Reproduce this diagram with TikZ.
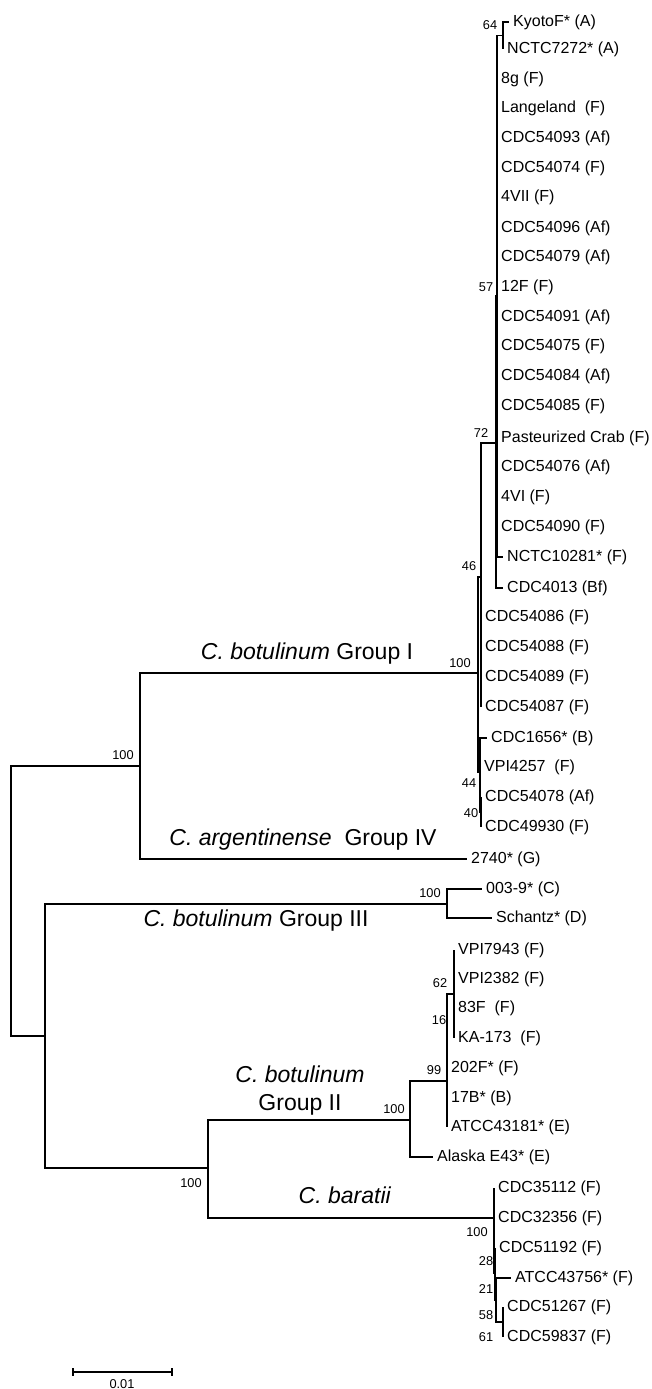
\documentclass[tikz,border=0pt]{standalone}
\usepackage{fontspec}
\setmainfont{Liberation Sans}
\tikzset{
  leaf/.style={anchor=west, inner xsep=4pt, inner ysep=1pt, font=\fontsize{16}{18}\selectfont},
  boot/.style={inner sep=0pt, font=\fontsize{12.8}{14}\selectfont},
  clade/.style={inner sep=0pt, align=center, font=\fontsize{23}{28}\selectfont},
  branch/.style={line width=1.8pt},
}
\begin{document}
\begin{tikzpicture}[x=1pt,y=-1pt]
        \useasboundingbox (0,0) rectangle (651,1389);
        %% inner nodes of the tree
        \coordinate (root) at (11,901);
        \coordinate (n100b) at (140,766);
        \coordinate (n100a) at (478,673);
        \coordinate (n46) at (481,577);
        \coordinate (n72) at (496,443);
        \coordinate (n57) at (497,296);
        \coordinate (n64) at (503,35.5);
        \coordinate (n44) at (480,772);
        \coordinate (n40) at (481,812);
        \coordinate (nlow) at (45,1036);
        \coordinate (n100c) at (447,904);
        \coordinate (nbb) at (208,1168);
        \coordinate (n100d) at (410,1120);
        \coordinate (n99) at (447,1081);
        \coordinate (n16) at (447,1031);
        \coordinate (n62) at (454,994);
        \coordinate (n100e) at (494,1218);
        \coordinate (n28) at (495,1273);
        \coordinate (n21) at (496,1300);
        \coordinate (n58) at (503,1322);
        %% Group I strains
        \node[leaf] (kyotoF) at (509,22) {KyotoF* (A)};
        \node[leaf] (nctc7272) at (503,49) {NCTC7272* (A)};
        \node[leaf] (l8g) at (497,79) {8g (F)};
        \node[leaf] (langeland) at (497,108) {Langeland\ \ (F)};
        \node[leaf] (cdc54093) at (497,138) {CDC54093 (Af)};
        \node[leaf] (cdc54074) at (497,168) {CDC54074 (F)};
        \node[leaf] (l4VII) at (497,197) {4VII (F)};
        \node[leaf] (cdc54096) at (497,228) {CDC54096 (Af)};
        \node[leaf] (cdc54079) at (497,257) {CDC54079 (Af)};
        \node[leaf] (l12F) at (497,287) {12F (F)};
        \node[leaf] (cdc54091) at (497,317) {CDC54091 (Af)};
        \node[leaf] (cdc54075) at (497,346) {CDC54075 (F)};
        \node[leaf] (cdc54084) at (497,376) {CDC54084 (Af)};
        \node[leaf] (cdc54085) at (497,406) {CDC54085 (F)};
        \node[leaf] (pastcrab) at (497,438) {Pasteurized Crab (F)};
        \node[leaf] (cdc54076) at (497,467) {CDC54076 (Af)};
        \node[leaf] (l4VI) at (497,497) {4VI (F)};
        \node[leaf] (cdc54090) at (497,527) {CDC54090 (F)};
        \node[leaf] (nctc10281) at (503,557) {NCTC10281* (F)};
        \node[leaf] (cdc4013) at (503,588) {CDC4013 (Bf)};
        \node[leaf] (cdc54086) at (481,617) {CDC54086 (F)};
        \node[leaf] (cdc54088) at (481,647) {CDC54088 (F)};
        \node[leaf] (cdc54089) at (481,677) {CDC54089 (F)};
        \node[leaf] (cdc54087) at (481,707) {CDC54087 (F)};
        \node[leaf] (cdc1656) at (487,738) {CDC1656* (B)};
        \node[leaf] (vpi4257) at (480,767) {VPI4257\ \ (F)};
        \node[leaf] (cdc54078) at (481,797) {CDC54078 (Af)};
        \node[leaf] (cdc49930) at (481,827) {CDC49930 (F)};
        %% Group IV and Group III strains
        \node[leaf] (g2740) at (467,859) {2740* (G)};
        \node[leaf] (c0039) at (482,889) {003-9* (C)};
        \node[leaf] (schantz) at (492,918) {Schantz* (D)};
        %% Group II strains
        \node[leaf] (vpi7943) at (454,950) {VPI7943 (F)};
        \node[leaf] (vpi2382) at (454,979) {VPI2382 (F)};
        \node[leaf] (l83F) at (454,1008) {83F\ \ (F)};
        \node[leaf] (ka173) at (454,1038) {KA-173\ \ (F)};
        \node[leaf] (l202F) at (447,1068) {202F* (F)};
        \node[leaf] (l17B) at (447,1098) {17B* (B)};
        \node[leaf] (atcc43181) at (447,1127) {ATCC43181* (E)};
        \node[leaf] (alaska) at (433,1157) {Alaska E43* (E)};
        %% C. baratii strains
        \node[leaf] (cdc35112) at (494,1188) {CDC35112 (F)};
        \node[leaf] (cdc32356) at (494,1218) {CDC32356 (F)};
        \node[leaf] (cdc51192) at (495,1248) {CDC51192 (F)};
        \node[leaf] (atcc43756) at (511,1278) {ATCC43756* (F)};
        \node[leaf] (cdc51267) at (503,1307) {CDC51267 (F)};
        \node[leaf] (cdc59837) at (503,1337) {CDC59837 (F)};
        %% branches
        \draw[branch] (root) |- (n100b) (root) |- (nlow);
        \draw[branch] (n100b) |- (n100a) (n100b) |- (g2740.west);
        \draw[branch] (n100a) |- (n46) (n100a) |- (n44);
        \draw[branch] (n46) |- (n72) (n46) |- (cdc54086.west) (n46) |- (cdc54088.west)
                      (n46) |- (cdc54089.west) (n46) |- (cdc54087.west);
        \draw[branch] (n72) |- (n57) (n72) |- (cdc4013.west);
        \draw[branch] (n57) |- (n64) (n57) |- (l8g.west) (n57) |- (langeland.west)
                      (n57) |- (cdc54093.west) (n57) |- (cdc54074.west) (n57) |- (l4VII.west)
                      (n57) |- (cdc54096.west) (n57) |- (cdc54079.west) (n57) |- (l12F.west)
                      (n57) |- (cdc54091.west) (n57) |- (cdc54075.west) (n57) |- (cdc54084.west)
                      (n57) |- (cdc54085.west) (n57) |- (pastcrab.west) (n57) |- (cdc54076.west)
                      (n57) |- (l4VI.west) (n57) |- (cdc54090.west) (n57) |- (nctc10281.west);
        \draw[branch] (n64) |- (kyotoF.west) (n64) |- (nctc7272.west);
        \draw[branch] (n44) |- (cdc1656.west) (n44) |- (vpi4257.west) (n44) |- (n40);
        \draw[branch] (n40) |- (cdc54078.west) (n40) |- (cdc49930.west);
        \draw[branch] (nlow) |- (n100c) (nlow) |- (nbb);
        \draw[branch] (n100c) |- (c0039.west) (n100c) |- (schantz.west);
        \draw[branch] (nbb) |- (n100d) (nbb) |- (n100e);
        \draw[branch] (n100d) |- (n99) (n100d) |- (alaska.west);
        \draw[branch] (n99) |- (n16) (n99) |- (l17B.west) (n99) |- (atcc43181.west);
        \draw[branch] (n16) |- (n62) (n16) |- (l202F.west);
        \draw[branch] (n62) |- (vpi7943.west) (n62) |- (vpi2382.west) (n62) |- (l83F.west)
                      (n62) |- (ka173.west);
        \draw[branch] (n100e) |- (cdc35112.west) (n100e) |- (cdc32356.west) (n100e) |- (n28);
        \draw[branch] (n28) |- (cdc51192.west) (n28) |- (n21);
        \draw[branch] (n21) |- (atcc43756.west) (n21) |- (n58);
        \draw[branch] (n58) |- (cdc51267.west) (n58) |- (cdc59837.west);
        %% bootstrap values
        \node[boot] (bs64) at (490,25) {64};
        \node[boot] (bs57) at (486,287) {57};
        \node[boot] (bs72) at (481,433) {72};
        \node[boot] (bs46) at (469,566) {46};
        \node[boot] (bs100a) at (460,663) {100};
        \node[boot] (bs44) at (469,783) {44};
        \node[boot] (bs40) at (471,813) {40};
        \node[boot] (bs100b) at (123,755) {100};
        \node[boot] (bs100c) at (430,893) {100};
        \node[boot] (bs62) at (440,983) {62};
        \node[boot] (bs16) at (439,1020) {16};
        \node[boot] (bs99) at (434,1070) {99};
        \node[boot] (bs100d) at (394,1109) {100};
        \node[boot] (bs100bb) at (191,1183) {100};
        \node[boot] (bs100e) at (477,1232) {100};
        \node[boot] (bs28) at (486,1261) {28};
        \node[boot] (bs21) at (486,1289) {21};
        \node[boot] (bs58) at (486,1315) {58};
        \node[boot] (bs61) at (486,1337) {61};
        %% clade names
        \node[clade] (grpI) at (307,654) {\textit{C. botulinum} Group I};
        \node[clade] (grpIV) at (303,840) {\textit{C. argentinense}\ \ Group IV};
        \node[clade] (grpIII) at (256,921) {\textit{C. botulinum} Group III};
        \node[clade] (grpII) at (300,1091) {\textit{C. botulinum}\\Group II};
        \node[clade] (baratii) at (345,1195) {\textit{C. baratii}};
        %% scale bar
        \coordinate (sbL) at (73,1372);
        \coordinate (sbR) at (172,1372);
        \draw[branch] (sbL) -- (sbR);
        \draw[branch] ([yshift=4pt]sbL) -- ([yshift=-4pt]sbL);
        \draw[branch] ([yshift=4pt]sbR) -- ([yshift=-4pt]sbR);
        \node[boot] (sbtxt) at (122,1384) {0.01};
    \end{tikzpicture}
\end{document}
